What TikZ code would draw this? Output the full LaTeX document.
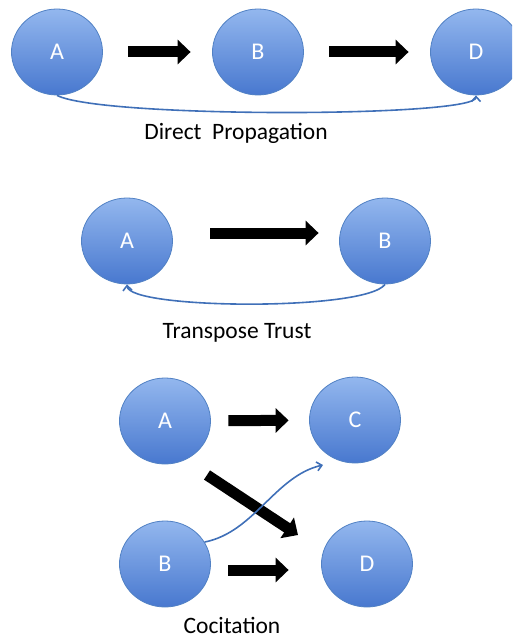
\documentclass[tikz,border=0pt]{standalone}
\usepackage{fontspec}
\setmainfont{Carlito}
\usetikzlibrary{arrows.meta,shapes.geometric}
\definecolor{ballTop}{HTML}{93B7EE}
\definecolor{ballBottom}{HTML}{4878CF}
\definecolor{ballEdge}{HTML}{5181C4}
\definecolor{linkBlue}{HTML}{4070B8}
\begin{document}
\begin{tikzpicture}[x=1pt,y=-1pt,
        ball/.style={ellipse, draw=ballEdge, line width=0.8pt, top color=ballTop, bottom color=ballBottom,
            minimum width=91pt, minimum height=86pt, inner sep=0pt, text=white, font=\fontsize{24}{24}\selectfont},
        fat/.style={line width=11pt, -{Triangle[length=13pt,width=24pt]}},
        link/.style={draw=linkBlue, line width=1.6pt, -{Straight Barb[length=5pt,width=9pt]}},
        tag/.style={anchor=base, inner sep=0pt, text depth=0pt, font=\fontsize{23.5}{23.5}\selectfont}]
    \useasboundingbox (0,0) rectangle (512,639);
    \clip (0,0) rectangle (512,639);

    % direct propagation
    \node[ball] (A1) at (57,52) {A};
    \node[ball] (B1) at (258,52) {B};
    \node[ball] (D1) at (476,52) {D};
    \draw[fat, shorten <=25.5pt, shorten >=21.5pt] (A1) -- (B1);
    \draw[fat, shorten <=25.5pt, shorten >=21.5pt] (B1) -- (D1);
    \draw[link] (A1.south) .. controls +(45,23) and +(0,22) .. (D1.south);
    \node[tag] (dp) at (236,140) {Direct~ Propagation};

    % transpose trust
    \node[ball] (A2) at (127,241) {A};
    \node[ball] (B2) at (385,241) {B};
    \draw[fat, shorten <=37.5pt, shorten >=20.5pt] ([yshift=8pt]A2.east) -- ([yshift=8pt]B2.west);
    \draw[link] (B2.south) .. controls +(-20,27) and +(2,25) .. (A2.south);
    \node[tag] (tt) at (237,338) {Transpose Trust};

    % cocitation
    \node[ball] (A3) at (165,421) {A};
    \node[ball] (C3) at (355,420) {C};
    \node[ball] (B3) at (165,564) {B};
    \node[ball] (D3) at (367,564) {D};
    \draw[fat, shorten <=17.5pt, shorten >=20.5pt] (A3) -- (C3);
    \draw[fat, shorten <=17.5pt, shorten >=32.5pt] ([yshift=-6pt]B3.east) -- ([yshift=-6pt]D3.west);
    \coordinate (dgA) at (207,475);
    \coordinate (dgD) at (298,535);
    \draw[fat] (dgA) -- (dgD);
    \coordinate (tipC) at (323,465);
    \draw[link] (B3.29) .. controls +(50,-10) and +(-48,11) .. (tipC);
    \node[tag] (co) at (232,633) {Cocitation};
\end{tikzpicture}
\end{document}
